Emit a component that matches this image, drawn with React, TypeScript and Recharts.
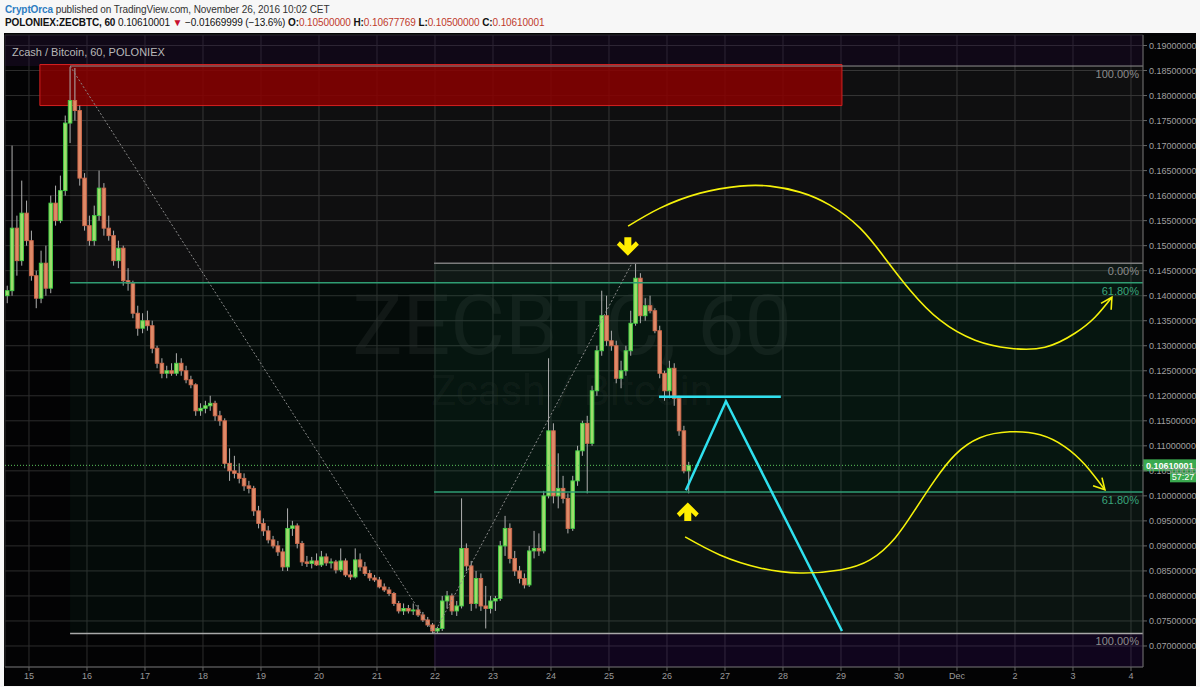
import React from "react";
import {
  ComposedChart,
  Bar,
  Line,
  XAxis,
  YAxis,
  CartesianGrid,
  ReferenceArea,
  ReferenceLine,
  ReferenceDot,
} from "recharts";

// 2-hour candles, [open, high, low, close]
const nov14 = [
  [0.14, 0.142, 0.1385, 0.141],
  [0.141, 0.17, 0.14, 0.1535],
  [0.1535, 0.156, 0.144, 0.147],
  [0.147, 0.163, 0.146, 0.1565],
  [0.1565, 0.159, 0.15, 0.151],
];
const nov15 = [
  [0.151, 0.153, 0.143, 0.144],
  [0.144, 0.145, 0.1375, 0.1395],
  [0.1395, 0.149, 0.1385, 0.1465],
  [0.1465, 0.15, 0.14, 0.1415],
  [0.1415, 0.16, 0.1405, 0.1585],
  [0.1585, 0.162, 0.154, 0.155],
  [0.155, 0.164, 0.1545, 0.161],
  [0.161, 0.176, 0.16, 0.1745],
  [0.1745, 0.1857, 0.1705, 0.179],
  [0.179, 0.1855, 0.175, 0.177],
  [0.177, 0.178, 0.162, 0.1635],
  [0.1635, 0.1645, 0.153, 0.154],
];
const nov16 = [
  [0.154, 0.156, 0.15, 0.151],
  [0.151, 0.158, 0.15, 0.156],
  [0.156, 0.165, 0.155, 0.1615],
  [0.1615, 0.1625, 0.152, 0.1535],
  [0.1535, 0.156, 0.151, 0.152],
  [0.152, 0.153, 0.146, 0.147],
  [0.147, 0.151, 0.1455, 0.1495],
  [0.1495, 0.15, 0.142, 0.143],
  [0.143, 0.1455, 0.141, 0.1425],
  [0.1425, 0.143, 0.1355, 0.1365],
  [0.1365, 0.138, 0.132, 0.1335],
  [0.1335, 0.1365, 0.1325, 0.135],
];
const nov17 = [
  [0.135, 0.137, 0.133, 0.134],
  [0.134, 0.135, 0.1285, 0.1295],
  [0.1295, 0.13, 0.1255, 0.1265],
  [0.1265, 0.1275, 0.1235, 0.1245],
  [0.1245, 0.126, 0.1235, 0.125],
  [0.125, 0.1265, 0.124, 0.1245],
  [0.1245, 0.1285, 0.124, 0.1265],
  [0.1265, 0.1275, 0.124, 0.125],
  [0.125, 0.126, 0.1225, 0.1232],
  [0.1232, 0.124, 0.1215, 0.1222],
  [0.1222, 0.1225, 0.116, 0.117],
  [0.117, 0.1185, 0.116, 0.1175],
];
const nov18 = [
  [0.1175, 0.119, 0.1165, 0.118],
  [0.118, 0.12, 0.117, 0.1185],
  [0.1185, 0.119, 0.115, 0.116],
  [0.116, 0.117, 0.114, 0.115],
  [0.115, 0.1155, 0.1055, 0.1065],
  [0.1065, 0.1095, 0.103, 0.105],
  [0.105, 0.108, 0.1035, 0.1045],
  [0.1045, 0.1065, 0.1025, 0.1035],
  [0.1035, 0.1045, 0.101, 0.102],
  [0.102, 0.103, 0.1005, 0.1015],
  [0.1015, 0.102, 0.096, 0.097],
  [0.097, 0.098, 0.0935, 0.0945],
];
const nov19 = [
  [0.0945, 0.0955, 0.092, 0.093],
  [0.093, 0.094, 0.0905, 0.0912],
  [0.0912, 0.092, 0.0895, 0.09],
  [0.09, 0.091, 0.088, 0.0888],
  [0.0888, 0.0895, 0.085, 0.0858],
  [0.0858, 0.0975, 0.085, 0.0935],
  [0.0935, 0.095, 0.092, 0.094],
  [0.094, 0.0945, 0.0895, 0.0905],
  [0.0905, 0.091, 0.086, 0.0868],
  [0.0868, 0.088, 0.0858, 0.0865],
  [0.0865, 0.0878, 0.0855, 0.087],
  [0.087, 0.0885, 0.086, 0.0862],
];
const nov20 = [
  [0.0862, 0.089, 0.0858, 0.0878],
  [0.0878, 0.0885, 0.086, 0.0866],
  [0.0866, 0.0875, 0.0855, 0.0868],
  [0.0868, 0.0872, 0.0845, 0.0852],
  [0.0852, 0.0895, 0.0848, 0.087],
  [0.087, 0.0875, 0.0838, 0.0842],
  [0.0842, 0.085, 0.0832, 0.0838],
  [0.0838, 0.0895, 0.0835, 0.0872],
  [0.0872, 0.0885, 0.085, 0.0858],
  [0.0858, 0.0868, 0.084, 0.0845],
  [0.0845, 0.0852, 0.083, 0.0836],
  [0.0836, 0.0842, 0.0828, 0.0832],
];
const nov21 = [
  [0.0832, 0.0838, 0.0815, 0.0818],
  [0.0818, 0.0825, 0.0808, 0.0812],
  [0.0812, 0.0818, 0.08, 0.0805],
  [0.0805, 0.0808, 0.078, 0.0785],
  [0.0785, 0.079, 0.0765, 0.077],
  [0.077, 0.0785, 0.0762, 0.0775],
  [0.0775, 0.0782, 0.0765, 0.077],
  [0.077, 0.0785, 0.0762, 0.0772],
  [0.0772, 0.0782, 0.0758, 0.0762],
  [0.0762, 0.0768, 0.0748, 0.0752],
  [0.0752, 0.0758, 0.0738, 0.0742],
  [0.0742, 0.0746, 0.0725, 0.073],
];
const nov22 = [
  [0.073, 0.0738, 0.0725, 0.0735],
  [0.0735, 0.08, 0.073, 0.079],
  [0.079, 0.081, 0.0775, 0.08],
  [0.08, 0.0805, 0.0762, 0.077],
  [0.077, 0.079, 0.076, 0.078],
  [0.078, 0.0995, 0.0775, 0.0895],
  [0.0895, 0.0905, 0.085, 0.086],
  [0.086, 0.087, 0.077, 0.0785],
  [0.0785, 0.085, 0.0775, 0.0835],
  [0.0835, 0.0845, 0.077, 0.078],
  [0.078, 0.082, 0.0735, 0.0775],
  [0.0775, 0.08, 0.0765, 0.079],
];
const nov23 = [
  [0.079, 0.08, 0.077, 0.0795],
  [0.0795, 0.091, 0.079, 0.09],
  [0.09, 0.096, 0.088, 0.0935],
  [0.0935, 0.0945, 0.0865, 0.0875],
  [0.0875, 0.089, 0.084, 0.085],
  [0.085, 0.086, 0.0825, 0.0835],
  [0.0835, 0.0845, 0.0815, 0.0822],
  [0.0822, 0.09, 0.0818, 0.089],
  [0.089, 0.093, 0.0875, 0.0895],
  [0.0895, 0.0925, 0.088, 0.089],
  [0.089, 0.101, 0.0885, 0.1],
  [0.1, 0.1275, 0.0995, 0.113],
];
const nov24 = [
  [0.113, 0.1145, 0.0985, 0.1],
  [0.1, 0.1085, 0.0975, 0.1015],
  [0.1015, 0.104, 0.0985, 0.0995],
  [0.0995, 0.1005, 0.0925, 0.0935],
  [0.0935, 0.104, 0.093, 0.103],
  [0.103, 0.11, 0.102, 0.109],
  [0.109, 0.115, 0.108, 0.1145],
  [0.1145, 0.116, 0.1005, 0.1105],
  [0.1105, 0.122, 0.11, 0.121],
  [0.121, 0.13, 0.12, 0.129],
  [0.129, 0.141, 0.128, 0.136],
  [0.136, 0.14, 0.13, 0.131],
];
const nov25 = [
  [0.131, 0.133, 0.129, 0.13],
  [0.13, 0.131, 0.1225, 0.1235],
  [0.1235, 0.127, 0.1215, 0.125],
  [0.125, 0.13, 0.124, 0.129],
  [0.129, 0.137, 0.128, 0.1345],
  [0.1345, 0.1465, 0.134, 0.1435],
  [0.1435, 0.1445, 0.1345, 0.136],
  [0.136, 0.1395, 0.135, 0.138],
  [0.138, 0.14, 0.1365, 0.137],
  [0.137, 0.1375, 0.1325, 0.133],
  [0.133, 0.134, 0.1235, 0.1245],
  [0.1245, 0.125, 0.119, 0.121],
];
const nov26 = [
  [0.121, 0.127, 0.1195, 0.1255],
  [0.1255, 0.1265, 0.118, 0.1195],
  [0.1195, 0.12, 0.112, 0.113],
  [0.113, 0.114, 0.1045, 0.105],
  [0.105, 0.1068, 0.1005, 0.1061],
];

// t = hours since Nov 15 00:00
const candleDays = [
  { day: -1, first: 15, bars: nov14 },
  { day: 0, first: 1, bars: nov15 },
  { day: 1, first: 1, bars: nov16 },
  { day: 2, first: 1, bars: nov17 },
  { day: 3, first: 1, bars: nov18 },
  { day: 4, first: 1, bars: nov19 },
  { day: 5, first: 1, bars: nov20 },
  { day: 6, first: 1, bars: nov21 },
  { day: 7, first: 1, bars: nov22 },
  { day: 8, first: 1, bars: nov23 },
  { day: 9, first: 1, bars: nov24 },
  { day: 10, first: 1, bars: nov25 },
  { day: 11, first: 1, bars: nov26 },
];

const candles = candleDays.flatMap(({ day, first, bars }) =>
  bars.map(([o, h, l, c], i) => ({ t: day * 24 + first + i * 2, o, h, l, c }))
);

const dayTicks = [0, 24, 48, 72, 96, 120, 144, 168, 192, 216, 240, 264, 288, 312, 336, 360, 384, 408, 432, 456];
const dayLabels = ["15", "16", "17", "18", "19", "20", "21", "22", "23", "24", "25", "26", "27", "28", "29", "30", "Dec", "2", "3", "4"];
const priceTicks = [
  0.07, 0.075, 0.08, 0.085, 0.09, 0.095, 0.1, 0.105, 0.11, 0.115, 0.12, 0.125,
  0.13, 0.135, 0.14, 0.145, 0.15, 0.155, 0.16, 0.165, 0.17, 0.175, 0.18, 0.185, 0.19,
];

const lastPrice = 0.10610001;

// swing points the drawings hang on
const swingHigh = { t: 17, p: 0.1859 };
const swingLow = { t: 167.6, p: 0.0725 };
const swingTop = { t: 249.5, p: 0.1465 };
const fibA618 = swingLow.p + 0.618 * (swingHigh.p - swingLow.p);
const fibB618 = swingTop.p - 0.618 * (swingTop.p - swingLow.p);

const resistanceBox = { t1: 4.5, t2: 336.4, p1: 0.178, p2: 0.1862 };
const cyanLevel = { t1: 260.7, t2: 311.1, p: 0.1198 };
const cyanPath = [
  { t: 271.8, p: 0.1011 },
  { t: 288.4, p: 0.1189 },
  { t: 336.4, p: 0.073 },
];
const upperCurve = [
  { t: 247.9, p: 0.1539 },
  { t: 261.1, p: 0.1575 },
  { t: 277.7, p: 0.1605 },
  { t: 294.2, p: 0.1619 },
  { t: 306.6, p: 0.1619 },
  { t: 319.0, p: 0.1607 },
  { t: 331.4, p: 0.1581 },
  { t: 343.9, p: 0.1535 },
  { t: 354.2, p: 0.1475 },
  { t: 364.6, p: 0.1411 },
  { t: 377.0, p: 0.1351 },
  { t: 391.5, p: 0.1311 },
  { t: 405.9, p: 0.1295 },
  { t: 420.4, p: 0.1297 },
  { t: 432.8, p: 0.1325 },
  { t: 441.1, p: 0.1357 },
  { t: 448.1, p: 0.1397 },
];
const lowerCurve = [
  { t: 271.5, p: 0.0918 },
  { t: 285.9, p: 0.0882 },
  { t: 302.5, p: 0.0856 },
  { t: 319.0, p: 0.0846 },
  { t: 335.6, p: 0.0852 },
  { t: 348.0, p: 0.0872 },
  { t: 358.4, p: 0.0916 },
  { t: 366.6, p: 0.0972 },
  { t: 374.9, p: 0.1032 },
  { t: 383.2, p: 0.1082 },
  { t: 393.5, p: 0.1116 },
  { t: 405.9, p: 0.1128 },
  { t: 418.4, p: 0.1122 },
  { t: 428.7, p: 0.1098 },
  { t: 437.0, p: 0.1062 },
  { t: 445.2, p: 0.1012 },
];

const X_MIN = -9.93;
const X_MAX = 460.97;
const Y_MIN = 0.0658;
const Y_MAX = 0.1921;

const Candle = (props: any) => {
  const { x, y, width, height, payload } = props;
  const { o, h, l, c } = payload;
  const top = Math.min(y, y + height);
  const hgt = Math.abs(height);
  const ppu = hgt / (h - l || 1e-9);
  const yOf = (v: number) => top + (h - v) * ppu;
  const bTop = yOf(Math.max(o, c));
  const bBot = yOf(Math.min(o, c));
  const up = c >= o;
  const cx = x + width / 2;
  const bw = 3.6;
  return (
    <g>
      <line x1={cx} x2={cx} y1={top} y2={top + hgt} stroke="#b0b0b0" strokeWidth={1} />
      <rect
        x={cx - bw / 2}
        y={bTop}
        width={bw}
        height={Math.max(1, bBot - bTop)}
        fill={up ? "#9fdc6c" : "#de8a68"}
        stroke={up ? "#3fcf45" : "#d06a4c"}
        strokeWidth={0.9}
      />
    </g>
  );
};

const BigArrow = ({ cx, cy, down }: any) => (
  <path
    transform={`translate(${cx},${cy}) rotate(${down ? 0 : 180})`}
    d="M-3.5,-9 L3.5,-9 L3.5,-0.5 L8,-5 L11,-1.5 L0,9.5 L-11,-1.5 L-8,-5 L-3.5,-0.5 Z"
    fill="#ffee00"
  />
);

const ArrowHead = ({ cx, cy, angle }: any) => (
  <path
    transform={`translate(${cx},${cy}) rotate(${angle})`}
    d="M-11,-6 L0,0 L-11,6"
    fill="none"
    stroke="#f5f20a"
    strokeWidth={1.6}
  />
);

const PriceTag = (props: any) => {
  const vb = props.viewBox || {};
  const x = vb.x + vb.width;
  const y = vb.y;
  return (
    <g>
      <rect x={x} y={y - 6} width={53} height={12} fill="#3aa94f" />
      <text x={x + 3} y={y + 3.5} fill="#ffffff" fontSize={9} fontWeight="bold">
        {lastPrice.toFixed(8)}
      </text>
      <rect x={x + 27} y={y + 6} width={26} height={11} fill="#3aa94f" />
      <text x={x + 40} y={y + 14.5} fill="#ffffff" fontSize={9} textAnchor="middle">
        57:27
      </text>
    </g>
  );
};

const fibLabel = (value: string, fill: string) => ({
  value,
  position: "insideTopRight" as const,
  offset: 4,
  fill,
  fontSize: 11,
});

export default function App() {
  const font = "'Liberation Sans', Roboto, sans-serif";
  return (
    <div
      style={{
        position: "absolute",
        left: 0,
        top: 0,
        width: 1200,
        height: 687,
        background: "#f7f7f7",
        fontFamily: font,
        overflow: "hidden",
      }}
    >
      <div style={{ position: "absolute", left: 5, top: 3, fontSize: 10, letterSpacing: -0.1, lineHeight: "14px", color: "#333", whiteSpace: "nowrap" }}>
        <span style={{ color: "#2d7cc1", fontWeight: 600 }}>CryptOrca</span> published on TradingView.com, November 26, 2016 10:02 CET
      </div>
      <div style={{ position: "absolute", left: 5, top: 16, fontSize: 10, letterSpacing: -0.1, lineHeight: "14px", color: "#111", whiteSpace: "nowrap" }}>
        <b>POLONIEX:ZECBTC, 60</b> 0.10610001 <span style={{ color: "#c8102e" }}>▼</span> −0.01669999 (−13.6%){" "}
        <b>O:</b><span style={{ color: "#c0392b" }}>0.10500000</span> <b>H:</b><span style={{ color: "#c0392b" }}>0.10677769</span>{" "}
        <b>L:</b><span style={{ color: "#c0392b" }}>0.10500000</span> <b>C:</b><span style={{ color: "#c0392b" }}>0.10610001</span>
      </div>

      <div style={{ position: "absolute", left: 4, top: 33, width: 1192, height: 653, background: "#030304" }} />

      <div
        style={{
          position: "absolute",
          left: 272,
          width: 600,
          top: 290,
          textAlign: "center",
          fontFamily: "Roboto, sans-serif",
          fontSize: 84,
          lineHeight: "72px",
          color: "rgba(255,255,255,0.055)",
        }}
      >
        ZECBTC, 60
      </div>
      <div
        style={{
          position: "absolute",
          left: 272,
          width: 600,
          top: 374,
          textAlign: "center",
          fontFamily: "Roboto, sans-serif",
          fontSize: 42,
          lineHeight: "34px",
          color: "rgba(255,255,255,0.055)",
        }}
      >
        Zcash / Bitcoin
      </div>

      <div style={{ position: "absolute", left: 4, top: 33 }}>
        <ComposedChart
          width={1192}
          height={653}
          data={candles}
          margin={{ top: 2, right: 0, bottom: 0, left: 1 }}
          style={{ fontFamily: font }}
        >
          <ReferenceArea x1={X_MIN} x2={X_MAX} y1={swingHigh.p} y2={Y_MAX} fill="rgba(45,20,70,0.3)" fillOpacity={1} ifOverflow="hidden" />
          <ReferenceArea x1={swingHigh.t} x2={X_MAX} y1={fibA618} y2={swingHigh.p} fill="rgba(255,255,255,0.05)" fillOpacity={1} />
          <ReferenceArea x1={swingHigh.t} x2={X_MAX} y1={swingLow.p} y2={fibA618} fill="rgba(30,150,100,0.06)" fillOpacity={1} />
          <ReferenceArea x1={swingLow.t} x2={X_MAX} y1={fibB618} y2={swingTop.p} fill="rgba(40,170,120,0.07)" fillOpacity={1} />
          <ReferenceArea x1={swingLow.t} x2={X_MAX} y1={swingLow.p} y2={fibB618} fill="rgba(150,200,175,0.05)" fillOpacity={1} />
          <ReferenceArea x1={swingLow.t} x2={X_MAX} y1={Y_MIN} y2={swingLow.p} fill="rgba(70,15,130,0.2)" fillOpacity={1} ifOverflow="hidden" />

          <CartesianGrid stroke="#2d2d2d" strokeWidth={1} />
          <XAxis
            type="number"
            dataKey="t"
            domain={[X_MIN, X_MAX]}
            allowDataOverflow
            ticks={dayTicks}
            interval={0}
            tickFormatter={(v: number) => dayLabels[dayTicks.indexOf(v)]}
            height={19}
            tickSize={4}
            tick={{ fill: "#9a9a9a", fontSize: 9 }}
            tickLine={{ stroke: "#666" }}
            axisLine={{ stroke: "#666" }}
          />
          <YAxis
            orientation="right"
            type="number"
            domain={[Y_MIN, Y_MAX]}
            allowDataOverflow
            ticks={priceTicks}
            interval={0}
            tickFormatter={(v: number) => v.toFixed(8)}
            width={53}
            tickSize={4}
            tick={{ fill: "#a0a0a0", fontSize: 9 }}
            tickLine={{ stroke: "#666" }}
            axisLine={{ stroke: "#666" }}
          />

          <ReferenceArea
            x1={resistanceBox.t1}
            x2={resistanceBox.t2}
            y1={resistanceBox.p1}
            y2={resistanceBox.p2}
            fill="#8a0000"
            fillOpacity={0.85}
            stroke="#d42020"
            strokeWidth={1}
          />

          <ReferenceLine
            segment={[{ x: swingHigh.t, y: swingHigh.p }, { x: X_MAX, y: swingHigh.p }]}
            stroke="#8f8f8f"
            label={fibLabel("100.00%", "#8c8c8c")}
          />
          <ReferenceLine
            segment={[{ x: swingHigh.t, y: fibA618 }, { x: X_MAX, y: fibA618 }]}
            stroke="#2f9d73"
            strokeWidth={1.5}
            label={fibLabel("61.80%", "#3aa57c")}
          />
          <ReferenceLine
            segment={[{ x: swingLow.t, y: swingTop.p }, { x: X_MAX, y: swingTop.p }]}
            stroke="#7c7c7c"
            strokeWidth={1.5}
            label={fibLabel("0.00%", "#8c8c8c")}
          />
          <ReferenceLine
            segment={[{ x: swingLow.t, y: fibB618 }, { x: X_MAX, y: fibB618 }]}
            stroke="#2f9d73"
            strokeWidth={1.5}
            label={fibLabel("61.80%", "#3aa57c")}
          />
          <ReferenceLine
            segment={[{ x: swingHigh.t, y: swingLow.p }, { x: X_MAX, y: swingLow.p }]}
            stroke="#a8a8a8"
            strokeWidth={1.5}
            label={fibLabel("100.00%", "#8c8c8c")}
          />
          <ReferenceLine
            segment={[{ x: swingHigh.t, y: swingHigh.p }, { x: swingLow.t, y: swingLow.p }]}
            stroke="#8a8a8a"
            strokeDasharray="2 2"
          />
          <ReferenceLine
            segment={[{ x: swingLow.t, y: swingLow.p }, { x: swingTop.t, y: swingTop.p }]}
            stroke="#8a8a8a"
            strokeDasharray="2 2"
          />
          <ReferenceLine y={lastPrice} stroke="#5cc45c" strokeDasharray="1 2" label={PriceTag} />

          <Bar dataKey={(d: any) => [d.l, d.h]} barSize={4} shape={Candle} isAnimationActive={false} />

          <ReferenceLine
            segment={[{ x: cyanLevel.t1, y: cyanLevel.p }, { x: cyanLevel.t2, y: cyanLevel.p }]}
            stroke="#2fe0ee"
            strokeWidth={2.5}
          />
          <Line data={cyanPath} dataKey="p" type="linear" stroke="#2fe0ee" strokeWidth={2.5} dot={false} isAnimationActive={false} />
          <Line data={upperCurve} dataKey="p" type="natural" stroke="#f5f20a" strokeWidth={1.6} dot={false} isAnimationActive={false} />
          <Line data={lowerCurve} dataKey="p" type="natural" stroke="#f5f20a" strokeWidth={1.6} dot={false} isAnimationActive={false} />

          <ReferenceDot x={448.1} y={0.1397} r={0} ifOverflow="visible" shape={(p: any) => <ArrowHead cx={p.cx} cy={p.cy} angle={-58} />} />
          <ReferenceDot x={445.2} y={0.1012} r={0} ifOverflow="visible" shape={(p: any) => <ArrowHead cx={p.cx} cy={p.cy} angle={48} />} />
          <ReferenceDot x={247.8} y={0.1499} r={0} ifOverflow="visible" shape={(p: any) => <BigArrow cx={p.cx} cy={p.cy} down />} />
          <ReferenceDot x={272.6} y={0.0968} r={0} ifOverflow="visible" shape={(p: any) => <BigArrow cx={p.cx} cy={p.cy} down={false} />} />
        </ComposedChart>
      </div>

      <div style={{ position: "absolute", left: 12, top: 45, fontSize: 11, lineHeight: "14px", color: "#b8b8b8" }}>
        Zcash / Bitcoin, 60, POLONIEX
      </div>
    </div>
  );
}
